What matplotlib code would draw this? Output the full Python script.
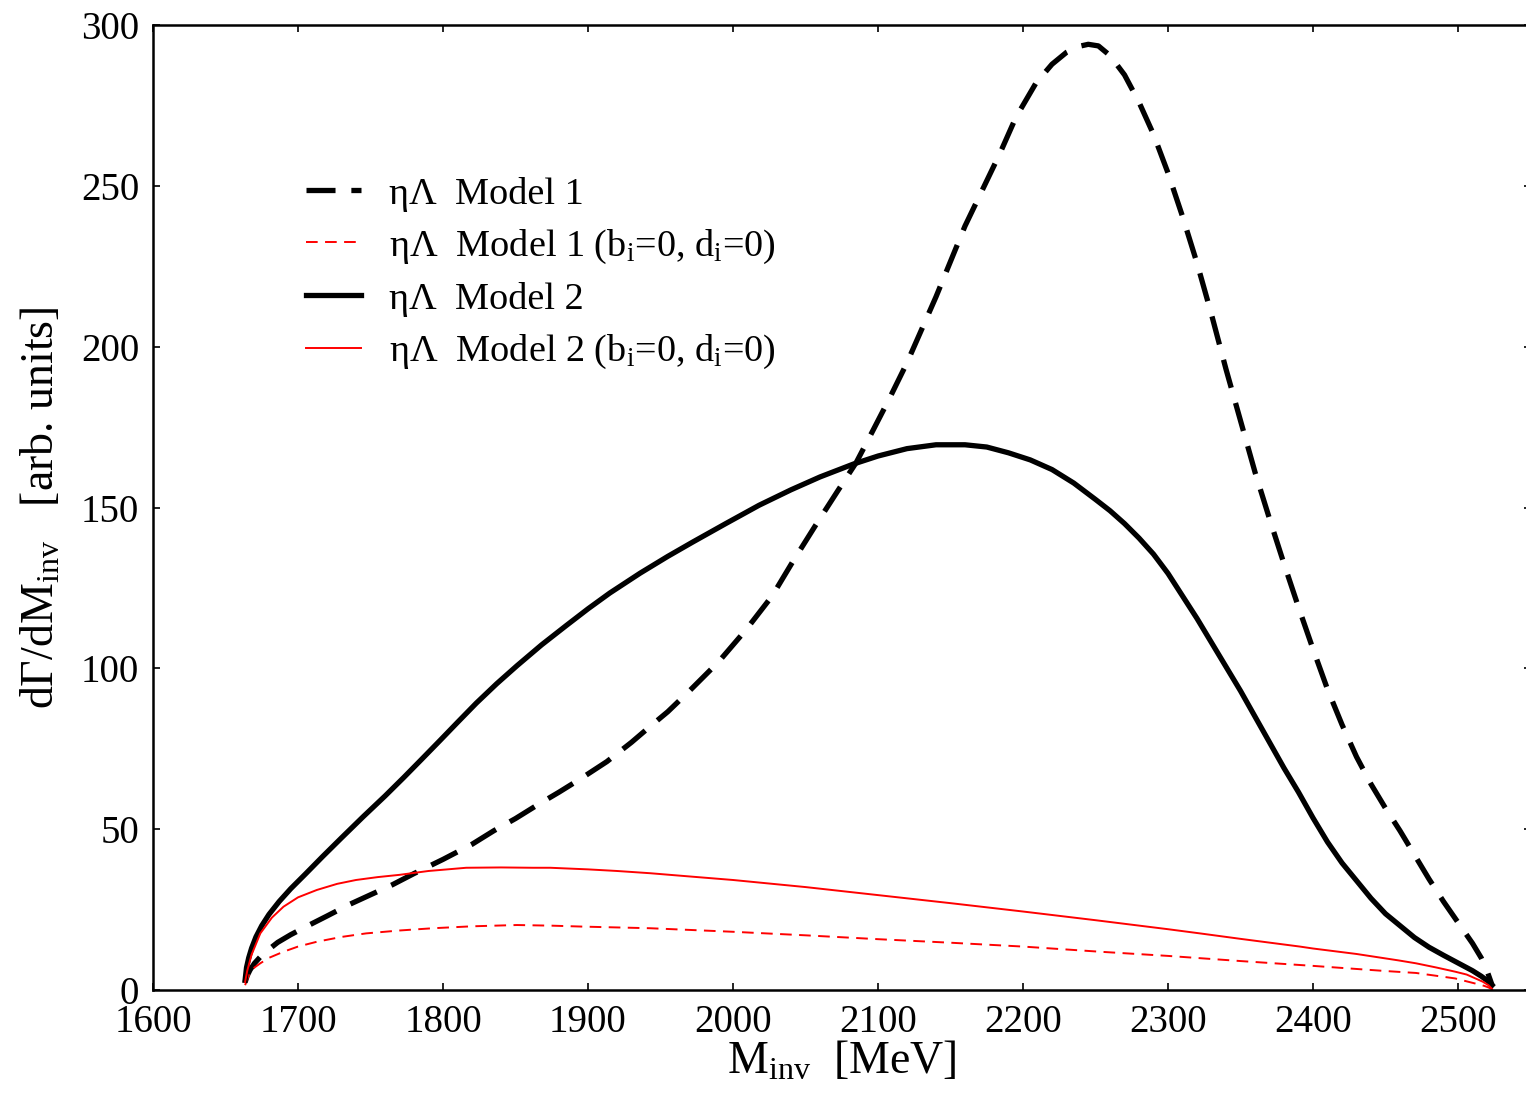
import matplotlib
matplotlib.use("Agg")
import matplotlib.pyplot as plt

plt.rcParams['font.family'] = ['Liberation Serif', 'DejaVu Serif']
plt.rcParams['mathtext.fontset'] = 'custom'
plt.rcParams['mathtext.rm'] = 'Liberation Serif'
plt.rcParams['mathtext.it'] = 'Liberation Serif:italic'
plt.rcParams['mathtext.bf'] = 'Liberation Serif:bold'

# ---- data ----
m1_x = [1663.6, 1665, 1667, 1670, 1674, 1679, 1686, 1695, 1706, 1720, 1735, 1750,
        1765, 1780, 1800, 1820, 1835, 1850, 1865, 1880, 1895, 1913, 1930, 1943,
        1955, 1970, 1990, 2009, 2027, 2041, 2057, 2072, 2085, 2096, 2108, 2120,
        2140, 2160, 2184, 2195, 2209, 2220, 2230, 2238, 2245, 2252, 2260, 2270,
        2280, 2290, 2300, 2310, 2320, 2330, 2340, 2350, 2360, 2370, 2380, 2390,
        2400, 2410, 2420, 2430, 2440, 2450, 2460, 2470, 2480, 2490, 2500, 2510,
        2516, 2520, 2523.5]
m1_y = [2.5, 4.5, 6.3, 8.3, 10.3, 12.3, 14.8, 17.2, 19.8, 23, 26.5, 29.6,
        32.7, 36.2, 40.6, 45.3, 49.5, 53.3, 57.5, 61.5, 65.7, 71, 77, 82,
        86.5, 93, 102, 112, 122.5, 133, 144.5, 155, 164, 173.5, 184, 195,
        215.5, 237.5, 260, 271.2, 282, 287.8, 291.5, 293.3, 294, 293.5, 290.5, 284.5,
        276, 266, 254, 240.5, 226, 210, 193, 177, 161, 146.5, 132.5, 119,
        106, 93.5, 82.5, 72.5, 64, 56.5, 49.5, 42, 34.5, 27.5, 21, 14.5,
        10, 6, 1.5]

m2_x = [1663.5, 1664.5, 1666, 1668, 1671, 1675, 1680, 1687, 1695, 1705, 1717, 1730,
        1745, 1760, 1773, 1785, 1798, 1810, 1823, 1837, 1851, 1868, 1885, 1900,
        1915, 1936, 1955, 1972, 1995, 2018, 2040, 2060, 2083, 2100, 2120, 2140,
        2160, 2175, 2190, 2205, 2220, 2235, 2250, 2260, 2270, 2280, 2290, 2300,
        2310, 2320, 2330, 2340, 2350, 2360, 2370, 2380, 2390, 2400, 2410, 2420,
        2430, 2440, 2450, 2460, 2470, 2480, 2490, 2500, 2510, 2516, 2520, 2523.5]
m2_y = [3, 7, 10, 13, 16.5, 20, 23.5, 27.5, 31.5, 36, 41.5, 47.3,
        53.9, 60.3, 66.1, 71.6, 77.6, 83.2, 89.2, 95.2, 100.8, 107.3, 113.3, 118.5,
        123.4, 129.6, 134.8, 139.2, 145, 150.7, 155.5, 159.5, 163.5, 166, 168.3, 169.5,
        169.5, 168.8, 167, 164.8, 161.8, 157.6, 152.5, 149, 145, 140.5, 135.5, 129.5,
        122.5, 115.5, 108, 100.5, 93, 85, 77, 69, 61.5, 53.5, 46, 39.5,
        34, 28.5, 23.7, 20, 16.3, 13.3, 10.8, 8.4, 6, 4.3, 3, 1.5]

m2b_x = [1663.5, 1665, 1668, 1674, 1682, 1690, 1700, 1713, 1727, 1740, 1755, 1770,
         1790, 1816, 1840, 1862, 1874, 1900, 1920, 1943, 1970, 2000, 2050, 2100,
         2150, 2200, 2250, 2300, 2322, 2350, 2391, 2400, 2430, 2459, 2471, 2485,
         2498, 2506, 2512, 2517, 2521, 2523.5]
m2b_y = [2.5, 6, 11, 17.6, 22.5, 25.9, 28.8, 31.1, 33, 34.2, 35.1, 35.8,
         37, 38, 38.1, 38, 38, 37.5, 37, 36.3, 35.3, 34.2, 32, 29.5,
         27, 24.4, 21.7, 18.9, 17.6, 15.9, 13.5, 12.9, 11.2, 9.2, 8.3, 7,
         5.7, 4.8, 3.6, 2.6, 1.5, 0.3]

m1b_x = [1663.5, 1666, 1670, 1674, 1680, 1690, 1700, 1713, 1730, 1747, 1770, 1793,
         1820, 1851, 1875, 1897, 1943, 2000, 2050, 2100, 2150, 2200, 2253, 2300,
         2350, 2400, 2450, 2471, 2498, 2505, 2512, 2518, 2521, 2523.5]
m1b_y = [1.5, 4.5, 7, 8.3, 10, 11.9, 13.5, 15, 16.5, 17.6, 18.5, 19.2,
         19.8, 20.2, 20, 19.7, 19.2, 18.1, 17, 15.8, 14.7, 13.5, 11.9, 10.6,
         9, 7.5, 5.9, 5.3, 3.6, 2.8, 2, 1.3, 0.8, 0.2]

labels = [r'ηΛ  Model 1',
          r'ηΛ  Model 1 (b$_{\rm i}$=0, d$_{\rm i}$=0)',
          r'ηΛ  Model 2',
          r'ηΛ  Model 2 (b$_{\rm i}$=0, d$_{\rm i}$=0)']
x_ticks = [1600, 1700, 1800, 1900, 2000, 2100, 2200, 2300, 2400, 2500]
y_ticks = [0, 50, 100, 150, 200, 250, 300]

# ---- figure ----
fig = plt.figure(figsize=(15.26, 10.97), dpi=100)
ax = fig.add_axes([153 / 1526, (1097 - 990) / 1097, 1377.5 / 1526, 965 / 1097])

ax.plot(m1_x, m1_y, color='black', lw=3.8, dashes=(5.5, 3.0), label=labels[0])
ax.plot(m1b_x, m1b_y, color='red', lw=1.4, dashes=(6.0, 3.8), label=labels[1])
ax.plot(m2_x, m2_y, color='black', lw=3.8, label=labels[2])
ax.plot(m2b_x, m2b_y, color='red', lw=1.4, label=labels[3])

ax.set_xlim(1600, 2550)
ax.set_ylim(0, 300)
ax.set_xticks(x_ticks)
ax.set_yticks(y_ticks)
ax.tick_params(direction='in', length=5, width=1.2, labelsize=28, pad=10,
               top=True, right=True)
for s in ax.spines.values():
    s.set_linewidth(1.8)

ax.set_xlabel(r'M$_{\rm inv}$  [MeV]', fontsize=33, labelpad=0)
ax.set_ylabel(r'dΓ/dM$_{\rm inv}$   [arb. units]', fontsize=33, labelpad=12)

leg = ax.legend(loc='upper left', bbox_to_anchor=(0.111, 0.843), frameon=False,
                fontsize=27.5, handlelength=1.45, handletextpad=0.72,
                labelspacing=0.42, borderaxespad=0, borderpad=0)

fig.savefig('out.png', dpi=100)
